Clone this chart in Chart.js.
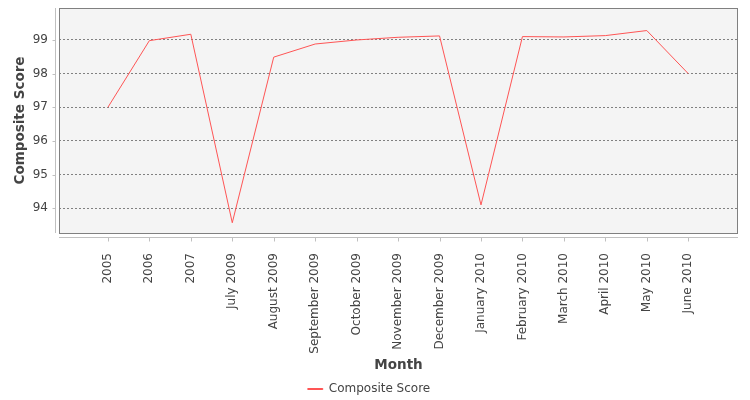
<!DOCTYPE html>
<html>
<head>
<meta charset="utf-8">
<script src="https://cdn.jsdelivr.net/npm/chart.js@4/dist/chart.umd.min.js"></script>
<style>
  html, body { margin: 0; padding: 0; background: #fff; }
  #wrap { width: 750px; height: 400px; }
</style>
</head>
<body>
<div id="wrap"><canvas id="myChart"></canvas></div>
<script>
// datos
const meses = ['2005', '2006', '2007', 'July 2009', 'August 2009', 'September 2009',
    'October 2009', 'November 2009', 'December 2009', 'January 2010', 'February 2010',
    'March 2010', 'April 2010', 'May 2010', 'June 2010'];
const compositeScore = [97.0, 98.98, 99.17, 93.57, 98.49, 98.88, 99.0, 99.08, 99.12,
    94.1, 99.1, 99.09, 99.13, 99.28, 98.0];
const yTicks = [94, 95, 96, 97, 98, 99];

const FONT = 'DejaVu Sans';
const ROJO = '#ff5555';

// fondo, borde del area y ejes separados (estilo JFreeChart)
const plotDecor = {
    id: 'plotDecor',
    beforeDraw(chart) {
        const { ctx, chartArea: a } = chart;
        ctx.save();
        ctx.fillStyle = '#f4f4f4';
        ctx.fillRect(a.left, a.top, a.right - a.left, a.bottom - a.top);
        ctx.restore();
    },
    afterDraw(chart) {
        const { ctx, chartArea: a, scales } = chart;
        ctx.save();
        ctx.strokeStyle = '#808080';
        ctx.lineWidth = 1;
        ctx.strokeRect(Math.round(a.left) + 0.5, Math.round(a.top) + 0.5,
            Math.round(a.right - a.left) - 1, Math.round(a.bottom - a.top));
        // ejes
        ctx.strokeStyle = '#c0c0c0';
        const ax = Math.round(a.left) - 3.5;
        const ay = Math.round(a.bottom) + 4.5;
        ctx.beginPath();
        ctx.moveTo(ax, a.top);
        ctx.lineTo(ax, a.bottom);
        ctx.moveTo(a.left, ay);
        ctx.lineTo(a.right, ay);
        yTicks.forEach(v => {
            const y = Math.round(scales.y.getPixelForValue(v)) + 0.5;
            ctx.moveTo(ax - 3, y);
            ctx.lineTo(ax, y);
        });
        meses.forEach((m, i) => {
            const x = Math.round(scales.x.getPixelForValue(i)) + 0.5;
            ctx.moveTo(x, ay);
            ctx.lineTo(x, ay + 4);
        });
        ctx.stroke();
        ctx.restore();
    }
};

document.addEventListener('DOMContentLoaded', () => {
    const ctx = document.getElementById('myChart').getContext('2d');
    new Chart(ctx, {
        type: 'line',
        data: {
            datasets: [{
                label: 'Composite Score',
                data: compositeScore.map((v, i) => ({ x: i, y: v })),
                borderColor: ROJO,
                backgroundColor: ROJO,
                borderWidth: 1,
                pointRadius: 0,
                tension: 0
            }]
        },
        options: {
            responsive: true,
            maintainAspectRatio: false,
            animation: false,
            layout: { padding: { top: 8, right: 12, left: 0, bottom: -5 } },
            scales: {
                x: {
                    type: 'linear',
                    min: -1.18,
                    max: 15.2,
                    afterFit: s => {
                        s.height = 147;
                        s.paddingLeft = 0;
                        s.paddingRight = 0;
                    },
                    afterBuildTicks: s => { s.ticks = meses.map((m, i) => ({ value: i })); },
                    grid: { display: false },
                    border: { display: false },
                    ticks: {
                        autoSkip: false,
                        minRotation: 90,
                        maxRotation: 90,
                        padding: 12,
                        color: '#444',
                        font: { family: FONT, size: 12 },
                        callback: v => meses[v]
                    },
                    title: {
                        display: true,
                        text: 'Month',
                        color: '#444',
                        font: { family: FONT, size: 13.5, weight: 'bold' },
                        padding: { top: 0, bottom: 6 }
                    }
                },
                y: {
                    min: 93.265,
                    max: 99.95,
                    afterFit: s => {
                        s.width = 59;
                        s.paddingTop = 0;
                        s.paddingBottom = 0;
                    },
                    afterBuildTicks: s => { s.ticks = yTicks.map(v => ({ value: v })); },
                    grid: {
                        color: '#808080',
                        borderDash: [2, 2],
                        drawTicks: false,
                        lineWidth: 1
                    },
                    border: { display: false, dash: [2, 2] },
                    ticks: {
                        padding: 11,
                        color: '#444',
                        font: { family: FONT, size: 12 }
                    },
                    title: {
                        display: true,
                        text: 'Composite Score',
                        color: '#444',
                        font: { family: FONT, size: 13.5, weight: 'bold' },
                        padding: { top: 12, bottom: 0 }
                    }
                }
            },
            plugins: {
                legend: {
                    position: 'bottom',
                    labels: {
                        boxWidth: 15,
                        boxHeight: 1,
                        padding: 3,
                        color: '#444',
                        font: { family: FONT, size: 12 }
                    }
                },
                tooltip: { enabled: false }
            }
        },
        plugins: [plotDecor]
    });
});
</script>
</body>
</html>
